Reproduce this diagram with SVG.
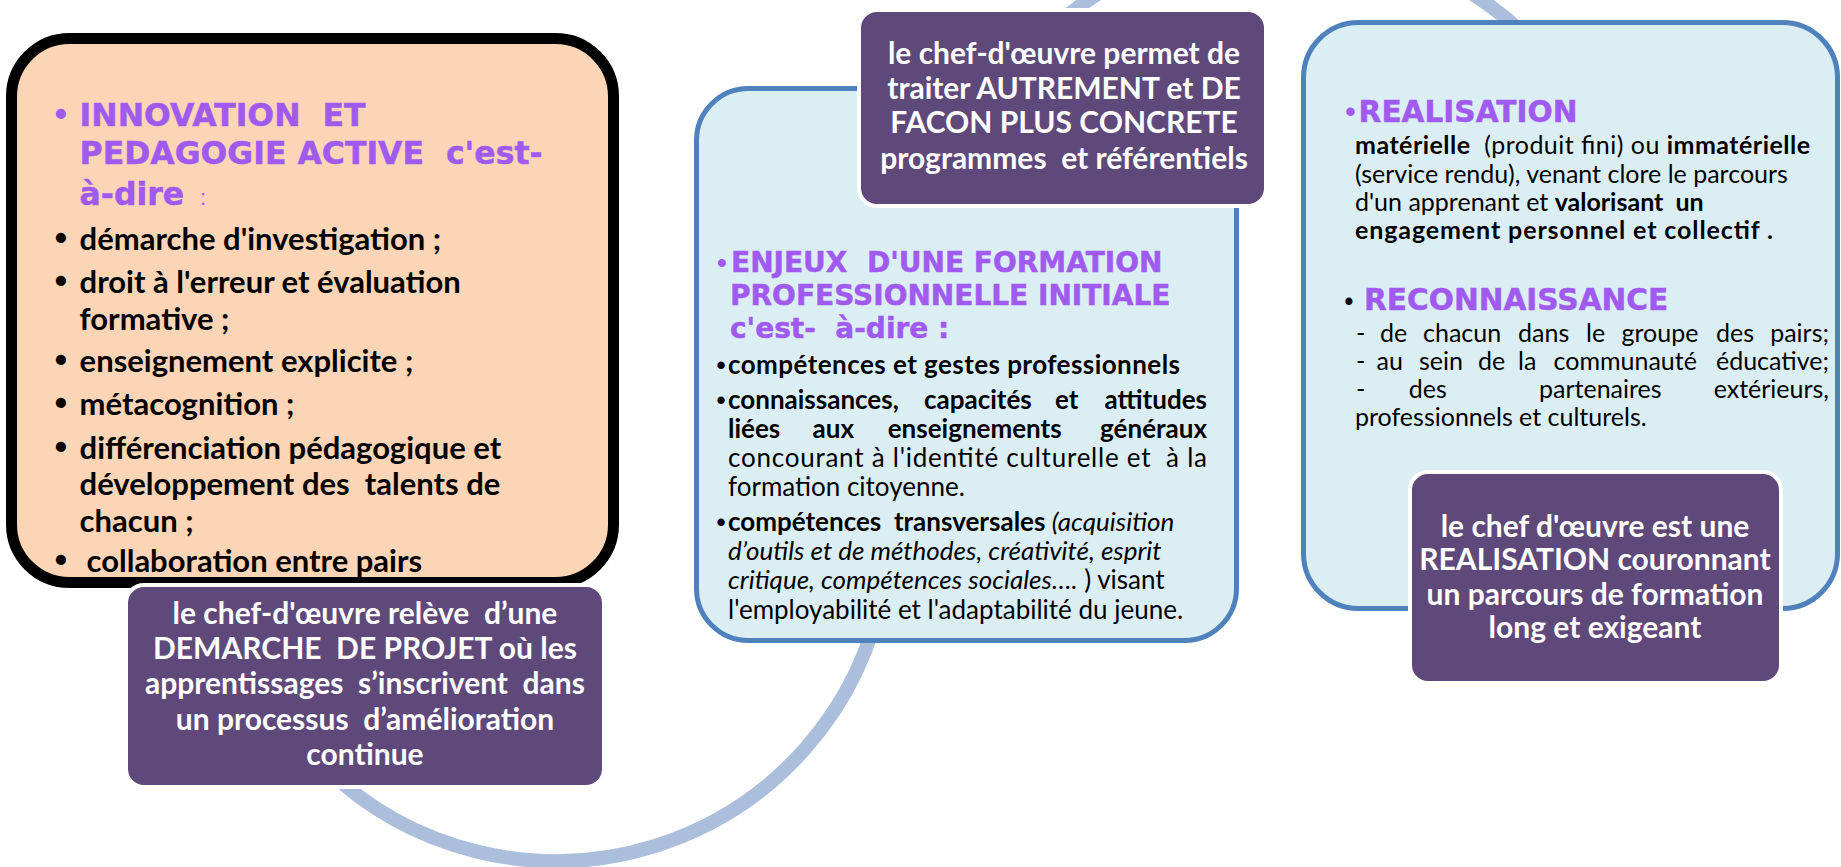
<svg xmlns="http://www.w3.org/2000/svg" width="1841" height="867" viewBox="0 0 1841 867">
<defs>
<style>
.peach{fill:#FBD5B5;stroke:#000;stroke-width:11}
.blue{fill:#DBEEF4;stroke:#4F81BD;stroke-width:5}
.purple{fill:#5F497A;stroke:#fff;stroke-width:4}
.arc{fill:none;stroke:#ABBEDC;stroke-width:14}
.h{font-family:"DejaVu Sans",sans-serif;font-weight:bold;fill:#A05AF0;stroke:#A05AF0;stroke-width:0.5px}
.b{font-family:Lato,"Liberation Sans",sans-serif;font-weight:bold;fill:#000}
.r{font-family:Lato,"Liberation Sans",sans-serif;font-weight:normal;fill:#000}
.i{font-style:italic;font-weight:normal}
.w{font-family:Lato,"Liberation Sans",sans-serif;font-weight:bold;fill:#fff;font-size:30px;text-anchor:middle}
.bl{text-anchor:middle;font-family:"Liberation Sans",sans-serif;font-weight:bold;stroke:none}
.e{text-anchor:end}
</style>
</defs>
<g id="connectors">
<path class="arc" d="M 321.2 763.8 A 332 332 0 0 0 883 586.7"/>
<path class="arc" d="M 1040 40 A 348 348 0 0 1 1530 40"/>
</g>
<g id="node-innovation">
<rect class="peach" x="11.5" y="38.5" width="602" height="544" rx="58"/>
<g class="h" font-size="31.5px">
<text class="bl" x="61" y="125.5" fill="#A05AF0" font-size="35px">•</text>
<text x="79.6" y="125.5" xml:space="preserve">INNOVATION  ET</text>
<text x="79.6" y="164" xml:space="preserve">PEDAGOGIE ACTIVE  c'est-</text>
<text x="79.6" y="205">à-dire<tspan x="200" font-family="Liberation Sans, sans-serif" font-weight="normal" font-size="22px" stroke="none">:</tspan></text>
</g>
<g class="b" font-size="31px">
<text class="bl" x="61" y="250" font-size="35px">•</text><text x="79.6" y="250">démarche d'investigation ;</text>
<text class="bl" x="61" y="293" font-size="35px">•</text><text x="79.6" y="293">droit à l'erreur et évaluation</text>
<text x="79.6" y="330">formative ;</text>
<text class="bl" x="61" y="372" font-size="35px">•</text><text x="79.6" y="372">enseignement explicite ;</text>
<text class="bl" x="61" y="415" font-size="35px">•</text><text x="79.6" y="415">métacognition ;</text>
<text class="bl" x="61" y="459" font-size="35px">•</text><text x="79.6" y="459">différenciation pédagogique et</text>
<text x="79.6" y="495" xml:space="preserve">développement des  talents de</text>
<text x="79.6" y="532">chacun ;</text>
<text class="bl" x="61" y="572" font-size="35px">•</text><text x="86.5" y="572">collaboration entre pairs</text>
</g>
</g>
<g id="node-demarche">
<rect class="purple" x="126" y="585" width="478" height="202" rx="18"/>
<text class="w" x="365" y="623.5" xml:space="preserve">le chef-d'œuvre relève  d’une</text>
<text class="w" x="365" y="659" xml:space="preserve">DEMARCHE  DE PROJET où les</text>
<text class="w" x="365" y="694" xml:space="preserve">apprentissages  s’inscrivent  dans</text>
<text class="w" x="365" y="730" xml:space="preserve">un processus  d’amélioration</text>
<text class="w" x="365" y="765.4">continue</text>
</g>
<g id="node-enjeux">
<rect class="blue" x="696.5" y="88.5" width="540" height="552" rx="52"/>
<g class="h" font-size="28px">
<text class="bl" x="722" y="272" fill="#A05AF0">•</text>
<text x="731" y="272" xml:space="preserve">ENJEUX  D'UNE FORMATION</text>
<text x="730" y="305">PROFESSIONNELLE INITIALE</text>
<text x="730" y="338" xml:space="preserve">c'est-  à-dire :</text>
</g>
<g class="b" font-size="26px">
<text class="bl" x="721" y="374">•</text><text x="728" y="374" textLength="452" lengthAdjust="spacing">compétences et gestes professionnels</text>
<text class="bl" x="721" y="409">•</text><text x="728" y="409">connaissances,</text><text x="924" y="409">capacités</text><text x="1055" y="409">et</text><text class="e" x="1207" y="409">attitudes</text>
<text x="728" y="438">liées</text><text x="812.6" y="438">aux</text><text x="887.7" y="438">enseignements</text><text class="e" x="1207" y="438">généraux</text>
<text class="r" x="728" y="467" textLength="479" lengthAdjust="spacing" xml:space="preserve">concourant à l'identité culturelle et  à la</text>
<text class="r" x="728" y="496">formation citoyenne.</text>
<text class="bl" x="721" y="531">•</text><text x="728" y="531" xml:space="preserve">compétences  transversales <tspan class="i">(acquisition</tspan></text>
<text class="r i" x="728" y="559.5">d’outils et de méthodes, créativité, esprit</text>
<text class="r" x="728" y="589"><tspan class="i">critique, compétences sociales….</tspan> ) visant</text>
<text class="r" x="728" y="618.5">l'employabilité et l'adaptabilité du jeune.</text>
</g>
</g>
<g id="node-autrement">
<rect class="purple" x="859" y="10" width="407" height="196" rx="18"/>
<text class="w" x="1064" y="63.5">le chef-d'œuvre permet de</text>
<text class="w" x="1064" y="98.8">traiter AUTREMENT et DE</text>
<text class="w" x="1064" y="133.4">FACON PLUS CONCRETE</text>
<text class="w" x="1064" y="168.7" xml:space="preserve">programmes  et référentiels</text>
</g>
<g id="node-realisation">
<rect class="blue" x="1303.5" y="22.5" width="534" height="586" rx="55"/>
<g class="h" font-size="29.6px">
<text class="bl" x="1350.5" y="121.7" fill="#A05AF0">•</text>
<text x="1358.6" y="121.7">REALISATION</text>
<text x="1364" y="310">RECONNAISSANCE</text>
</g>
<g class="r" font-size="25px">
<text x="1355" y="154" textLength="455" lengthAdjust="spacing" xml:space="preserve"><tspan font-weight="bold">matérielle</tspan>  (produit fini) ou <tspan font-weight="bold">immatérielle</tspan></text>
<text x="1355" y="183">(service rendu), venant clore le parcours</text>
<text x="1355" y="211" xml:space="preserve">d'un apprenant et <tspan font-weight="bold">valorisant  un</tspan></text>
<text x="1355" y="239" font-weight="bold" textLength="418" lengthAdjust="spacing">engagement personnel et collectif .</text>
<text class="bl" x="1349" y="310">•</text>
<text x="1356" y="342">-</text><text x="1380" y="342">de</text><text x="1423" y="342">chacun</text><text x="1518" y="342">dans</text><text x="1586" y="342">le</text><text x="1621.5" y="342">groupe</text><text x="1716" y="342">des</text><text class="e" x="1829" y="342">pairs;</text>
<text x="1356" y="370">-</text><text x="1376.5" y="370">au</text><text x="1419" y="370">sein</text><text x="1478" y="370">de</text><text x="1518" y="370">la</text><text x="1553.5" y="370">communauté</text><text class="e" x="1829" y="370">éducative;</text>
<text x="1356" y="398">-</text><text x="1408.7" y="398">des</text><text x="1539" y="398">partenaires</text><text class="e" x="1829" y="398">extérieurs,</text>
<text x="1355" y="426">professionnels et culturels.</text>
</g>
</g>
<g id="node-couronnant">
<rect class="purple" x="1410" y="472" width="371" height="211" rx="18"/>
<text class="w" x="1595" y="536.7">le chef d'œuvre est une</text>
<text class="w" x="1595" y="570">REALISATION couronnant</text>
<text class="w" x="1595" y="605">un parcours de formation</text>
<text class="w" x="1595" y="638">long et exigeant</text>
</g>
</svg>
